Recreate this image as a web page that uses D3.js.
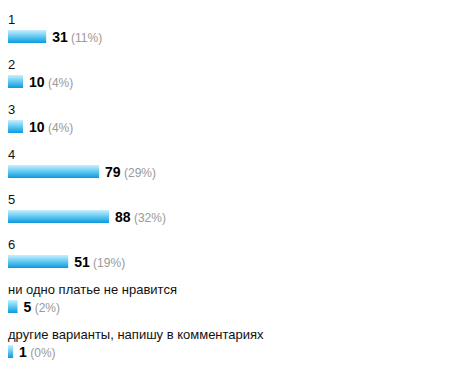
<!DOCTYPE html>
<html>
<head>
<meta charset="utf-8">
<script src="https://cdn.jsdelivr.net/npm/d3@7"></script>
<style>
  body { margin: 0; background: #fff; }
  text { font-family: Arial, "Liberation Sans", sans-serif; }
</style>
</head>
<body>
<script>
var categories = ['1', '2', '3', '4', '5', '6',
  'ни одно платье не нравится',
  'другие варианты, напишу в комментариях'];
var votes = [31, 10, 10, 79, 88, 51, 5, 1];
var percents = [11, 4, 4, 29, 32, 19, 2, 0];

var width = 450, height = 376;

var svg = d3.select("body").append("svg")
  .attr("width", width)
  .attr("height", height);

// bar gradient, light on top, blue at the bottom
var grad = svg.append("defs").append("linearGradient")
  .attr("id", "barGrad")
  .attr("x1", 0).attr("y1", 0).attr("x2", 0).attr("y2", 1);
grad.append("stop").attr("offset", "0%").attr("stop-color", "#c8f0ff");
grad.append("stop").attr("offset", "45%").attr("stop-color", "#6ccdf4");
grad.append("stop").attr("offset", "100%").attr("stop-color", "#0a9ade");

var rows = categories.map(function(c, i) {
  return { label: c, votes: votes[i], pct: percents[i] };
});

// one row every 45px
var y = d3.scaleBand()
  .domain(categories)
  .range([10, 10 + 45 * categories.length]);

var x = d3.scaleLinear()
  .domain([0, d3.max(votes)])
  .range([4, 101]);

var left = 8;

var g = svg.selectAll("g.row")
  .data(rows)
  .enter().append("g")
  .attr("class", "row")
  .attr("transform", function(d) { return "translate(" + left + "," + y(d.label) + ")"; });

g.append("text")
  .attr("x", 0)
  .attr("y", 14)
  .attr("font-size", 13)
  .attr("fill", "#111")
  .text(function(d) { return d.label; });

g.append("rect")
  .attr("x", 0)
  .attr("y", 20)
  .attr("height", 13)
  .attr("width", function(d) { return x(d.votes); })
  .attr("fill", "url(#barGrad)");

var t = g.append("text")
  .attr("x", function(d) { return x(d.votes) + 6; })
  .attr("y", 32)
  .attr("font-size", 14);

t.append("tspan")
  .attr("font-weight", "bold")
  .attr("fill", "#000")
  .text(function(d) { return d.votes; });

t.append("tspan")
  .attr("font-size", 12)
  .attr("fill", "#999")
  .text(function(d) { return " (" + d.pct + "%)"; });
</script>
</body>
</html>
